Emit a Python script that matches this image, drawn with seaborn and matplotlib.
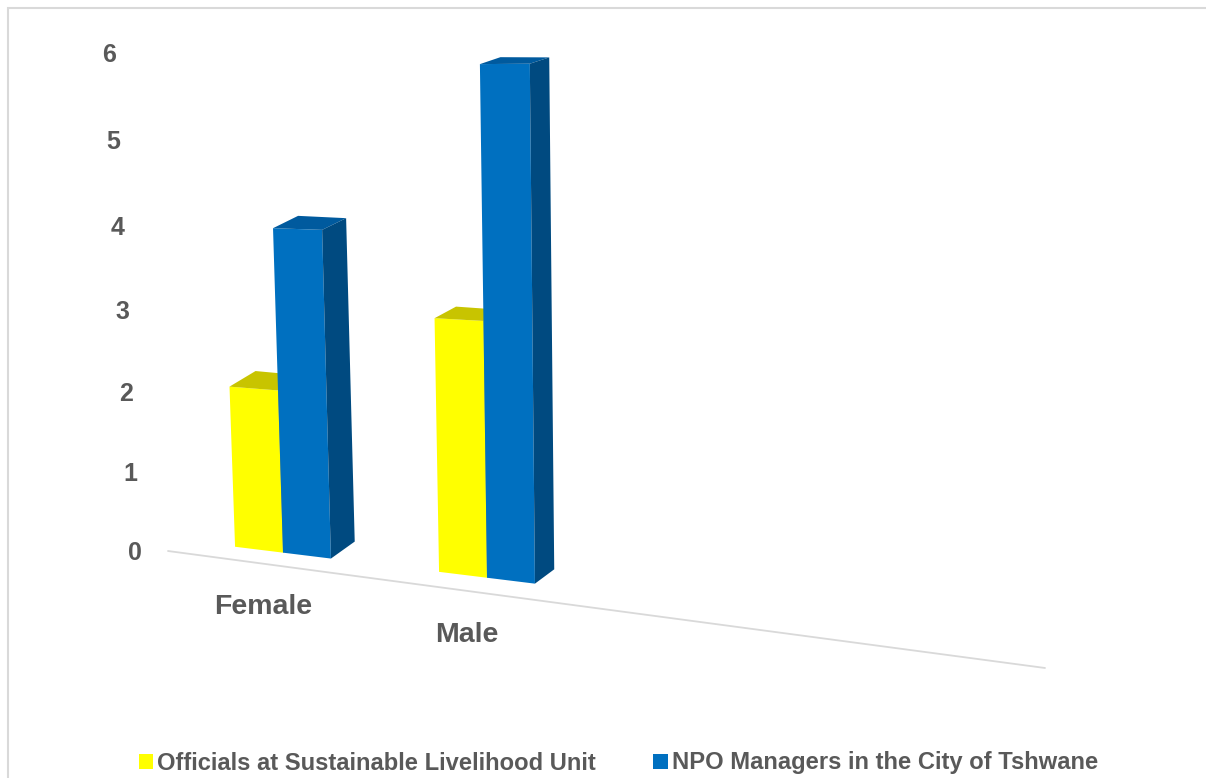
import numpy as np
import pandas as pd
import matplotlib
matplotlib.use("Agg")
import matplotlib.pyplot as plt
import matplotlib.transforms as mtransforms
from matplotlib.patches import Polygon, Rectangle
import seaborn as sns

# ---- data -------------------------------------------------------------
genders = ["Female", "Male"]
series = ["Officials at Sustainable Livelihood Unit",
          "NPO Managers in the City of Tshwane"]
officials = [2, 3]
npo_managers = [4, 6]
y_ticks = [0, 1, 2, 3, 4, 5, 6]

# ---- style ------------------------------------------------------------
front_colors = ["#FFFF00", "#0070C0"]
top_colors = ["#C8C400", "#005A9E"]
side_colors = ["#A8A500", "#004A80"]
text_color = "#595959"
floor_color = "#D9D9D9"

df = pd.DataFrame({
    "Gender": genders * 2,
    "Group": [series[0]] * len(genders) + [series[1]] * len(genders),
    "Count": officials + npo_managers,
})

W, H, DPI = 1206, 778, 100
sns.set_theme(style="white")
plt.rcParams["font.family"] = ["Liberation Sans", "DejaVu Sans"]

fig = plt.figure(figsize=(W / DPI, H / DPI), dpi=DPI)
ax = fig.add_axes([168 / W, 227 / H, 877 / W, 498 / H])

sns.barplot(data=df, x="Gender", y="Count", hue="Group", hue_order=series,
            palette=front_colors, saturation=1, width=0.47, linewidth=0,
            ax=ax)

ax.set_xlim(-115 / 204, 762 / 204)
ax.set_ylim(0, 6)
ax.set_yticks(y_ticks)
ax.set_xlabel("")
ax.set_ylabel("")
for s in ax.spines.values():
    s.set_visible(False)
ax.grid(False)

# ---- perspective of the 3-D floor --------------------------------------
y_zero = ax.transData.transform((0, 0))[1]
unit = ax.transData.transform((0, 1))[1] - y_zero
x_left = ax.transData.transform((ax.get_xlim()[0], 0))[0]


class FloorPerspective(mtransforms.Transform):
    """Tilts flat display coordinates onto a receding floor."""
    input_dims = 2
    output_dims = 2

    def __init__(self, y0, unit):
        super().__init__()
        self.y0 = y0
        self.unit = unit

    def transform_non_affine(self, values):
        values = np.asarray(values, dtype=float)
        X = values[:, 0]
        v = (values[:, 1] - self.y0) / self.unit
        scale = 80.5 + 0.022 * (X - 255)
        h = v * scale
        base = (H - self.y0) - 4 + 0.123 * (X - 237)
        lean = np.clip(0.031 - 0.083e-3 * (X - 280), 0, None)
        return np.column_stack([X - lean * h, H - (base - h)])


warp = FloorPerspective(y_zero, unit)
full = ax.transData + warp


def depth(X, v):
    dx = 26 - 0.022 * (X - 230)
    dy = 17 - 0.013 * (X - 330) - 1.35 * v
    return np.array([dx, dy])


for i, container in enumerate(ax.containers):
    z = 2 + i
    for bar in container:
        bar.set_transform(full)
        bar.set_clip_on(False)
        bar.set_zorder(z)
        x0, w, hgt = bar.get_x(), bar.get_width(), bar.get_height()
        bl, br, tr, tl = full.transform([(x0, 0), (x0 + w, 0),
                                         (x0 + w, hgt), (x0, hgt)])
        br_b = br + depth(br[0], 0)
        tr_b = tr + depth(tr[0], hgt)
        tl_b = tl + depth(tl[0], hgt)
        top = Polygon([tl, tr, tr_b, tl_b], closed=True, lw=0,
                      facecolor=top_colors[i], zorder=z + 0.1,
                      transform=mtransforms.IdentityTransform(),
                      clip_on=False)
        side = Polygon([br, tr, tr_b, br_b], closed=True, lw=0,
                       facecolor=side_colors[i], zorder=z + 0.1,
                       transform=mtransforms.IdentityTransform(),
                       clip_on=False)
        ax.add_artist(top)
        ax.add_artist(side)

# floor line running back under the bars
shear = (mtransforms.Affine2D().translate(-x_left, 0)
         .skew(0, np.arctan(-0.1334)).translate(x_left, 0))
ax.plot(ax.get_xlim(), [0, 0], color=floor_color, lw=1.3,
        transform=ax.transData + shear, clip_on=False, zorder=1)

# ---- tick labels -------------------------------------------------------
ax.tick_params(axis="y", length=0, pad=18.7, labelsize=18,
               labelcolor=text_color)
ax.tick_params(axis="x", length=0, pad=0, labelsize=20.5,
               labelcolor=text_color)

for lab, v in zip(ax.get_yticklabels(), y_ticks):
    lab.set_fontweight("bold")
    off = mtransforms.ScaledTranslation(-4.3 * v / DPI,
                                        -0.78 * v * (6 - v) / DPI,
                                        fig.dpi_scale_trans)
    lab.set_transform(lab.get_transform() + off)

for lab, xt in zip(ax.get_xticklabels(), ax.get_xticks()):
    lab.set_fontweight("bold")
    lab.set_va("center")
    X = ax.transData.transform((xt, 0))[0]
    off = mtransforms.ScaledTranslation(-20 / DPI,
                                        -(0.1334 * (X - x_left) + 41) / DPI,
                                        fig.dpi_scale_trans)
    lab.set_transform(lab.get_transform() + off)

# ---- legend ------------------------------------------------------------
handles, labels = ax.get_legend_handles_labels()
if ax.get_legend() is not None:
    ax.get_legend().remove()
fig.legend(handles, labels, loc="center",
           bbox_to_anchor=(618.5 / W, 1 - 763 / H),
           ncol=2, frameon=False, handlelength=0.6,
           handleheight=0.6, handletextpad=0.17, columnspacing=2.4,
           prop={"weight": "bold", "size": 17.1}, labelcolor=text_color)

# chart-area border
fig.add_artist(Rectangle((7.5 / W, -0.1), 2, (H - 8.5) / H + 0.1,
                         transform=fig.transFigure, fill=False,
                         edgecolor=floor_color, lw=1.5))

fig.savefig("out.png", dpi=DPI)
